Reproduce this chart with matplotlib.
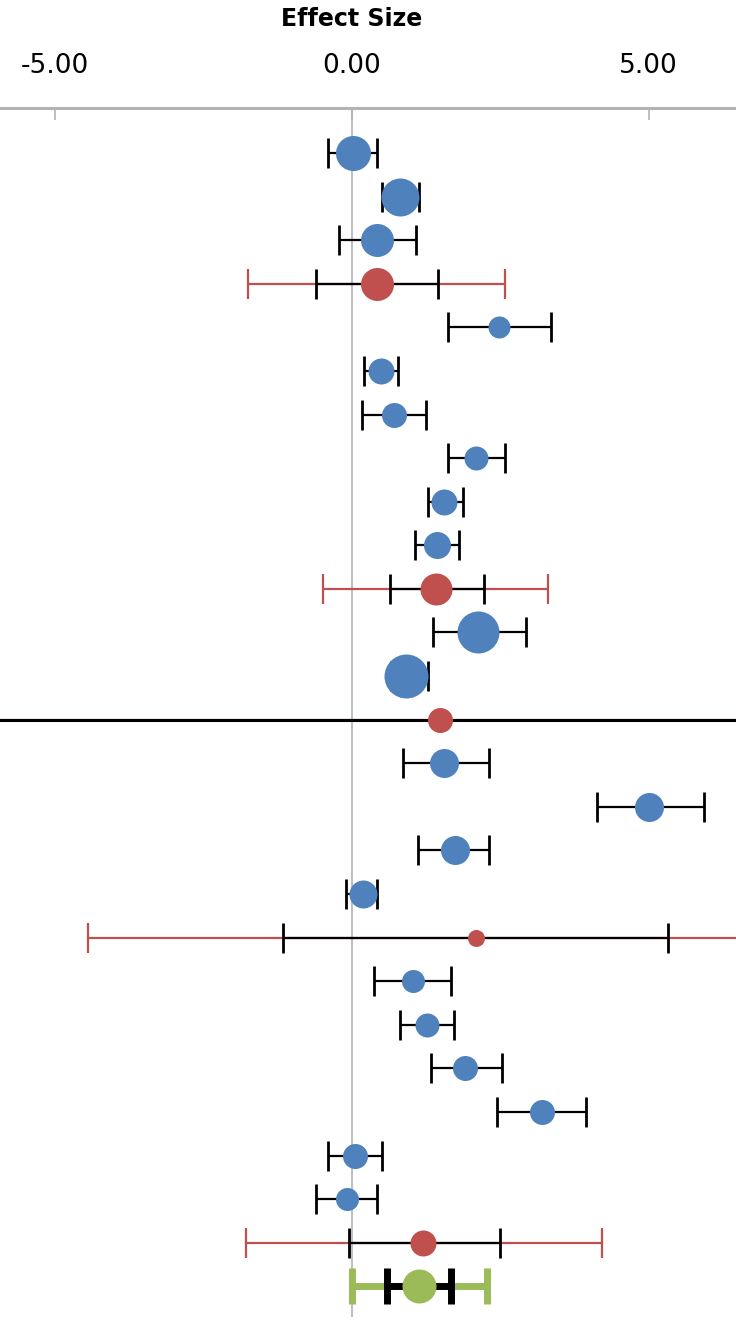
import matplotlib.pyplot as plt
import matplotlib.transforms as mtransforms
import numpy as np

# ------------------------------------------------
# Data (top to bottom)
# ------------------------------------------------
kinds = ["study", "study", "study", "subtotal", "study", "study", "study",
         "study", "study", "study", "subtotal", "study", "study", "subtotal",
         "study", "study", "study", "study", "subtotal", "study", "study",
         "study", "study", "study", "study", "subtotal", "overall"]

effect = [0.02, 0.81, 0.43, 0.43, 2.48, 0.49, 0.71, 2.09, 1.55, 1.43, 1.42,
          2.13, 0.91, 1.49, 1.56, 5.01, 1.74, 0.19, 2.09, 1.03, 1.26, 1.91,
          3.20, 0.06, -0.08, 1.20, 1.13]

ci_low = [-0.40, 0.51, -0.21, -0.60, 1.62, 0.21, 0.17, 1.62, 1.28, 1.07, 0.64,
          1.37, 0.66, -9.0, 0.86, 4.13, 1.12, -0.10, -1.16, 0.37, 0.81, 1.33,
          2.45, -0.40, -0.60, -0.04, 0.59]

ci_high = [0.43, 1.14, 1.08, 1.46, 3.36, 0.78, 1.25, 2.58, 1.88, 1.81, 2.23,
           2.93, 1.28, 9.0, 2.31, 5.93, 2.31, 0.43, 5.32, 1.67, 1.72, 2.53,
           3.95, 0.51, 0.43, 2.50, 1.67]

# prediction intervals (only for subtotal / overall rows)
pi_low = [None, None, None, -1.74, None, None, None, None, None, None, -0.48,
          None, None, -9.0, None, None, None, None, -4.44, None, None, None,
          None, None, None, -1.78, 0.00]
pi_high = [None, None, None, 2.58, None, None, None, None, None, None, 3.31,
           None, None, 9.0, None, None, None, None, 8.00, None, None, None,
           None, None, None, 4.21, 2.28]

# study weight shown as marker diameter (px)
weight = [35, 38, 33, 33, 22, 26, 25, 24, 26, 27, 32, 42, 44, 25, 29, 29, 29,
          28, 17, 23, 24, 25, 25, 25, 23, 26, 34]

ticks = [-5, 0, 5]
tick_labels = ["-5.00", "0.00", "5.00"]

COLORS = {"study": "#4F81BD", "subtotal": "#C0504D", "overall": "#9BBB59"}

# ------------------------------------------------
# Plot
# ------------------------------------------------
W, H, DPI = 736, 1326, 100
fig = plt.figure(figsize=(W / DPI, H / DPI), dpi=DPI)
ax = fig.add_axes([0, 9 / H, 1, 1209 / H])

rows = np.arange(1, len(effect) + 1)
px2pt = 72 / DPI

for y, k, e, lo, hi, plo, phi, w in zip(rows, kinds, effect, ci_low, ci_high,
                                        pi_low, pi_high, weight):
    col = COLORS[k]
    thick = k == "overall"
    lw = 5 if thick else 1.6
    cap = 13 if thick else 11
    if plo is not None:
        ax.errorbar(e, y, xerr=[[e - plo], [phi - e]], fmt="none", ecolor=col,
                    elinewidth=lw, capsize=cap, capthick=lw, zorder=2)
    ax.errorbar(e, y, xerr=[[e - lo], [hi - e]], fmt="none", ecolor="black",
                elinewidth=lw if thick else (2.2 if hi - lo > 15 else 1.6),
                capsize=cap, capthick=5 if thick else 2.0, zorder=3)
    ax.plot(e, y, "o", ms=w * px2pt, color=col, mec="none", zorder=4)

# vertical reference line at zero
ax.axvline(0, color="#BFBFBF", lw=1.5, zorder=1)

# axes style
ax.set_xlim(-351.7 / 59.4, (W - 351.7) / 59.4)
ax.set_ylim(27.7, -0.03)
for s in ["left", "right", "bottom"]:
    ax.spines[s].set_visible(False)
ax.spines["top"].set_color("#B3B3B3")
ax.spines["top"].set_linewidth(2.2)
ax.set_yticks([])
ax.xaxis.tick_top()
ax.set_xticks(ticks)
ax.set_xticklabels(tick_labels)
ax.tick_params(axis="x", direction="in", length=8.5, width=1.2,
               color="#B3B3B3", pad=21, labelsize=19)

# axis title, centred over zero
trans = mtransforms.blended_transform_factory(ax.transData, fig.transFigure)
ax.text(0, 1 - 19 / H, "Effect Size", transform=trans, ha="center",
        va="center", fontsize=17, fontweight="bold")

plt.savefig("out.png", dpi=DPI)
